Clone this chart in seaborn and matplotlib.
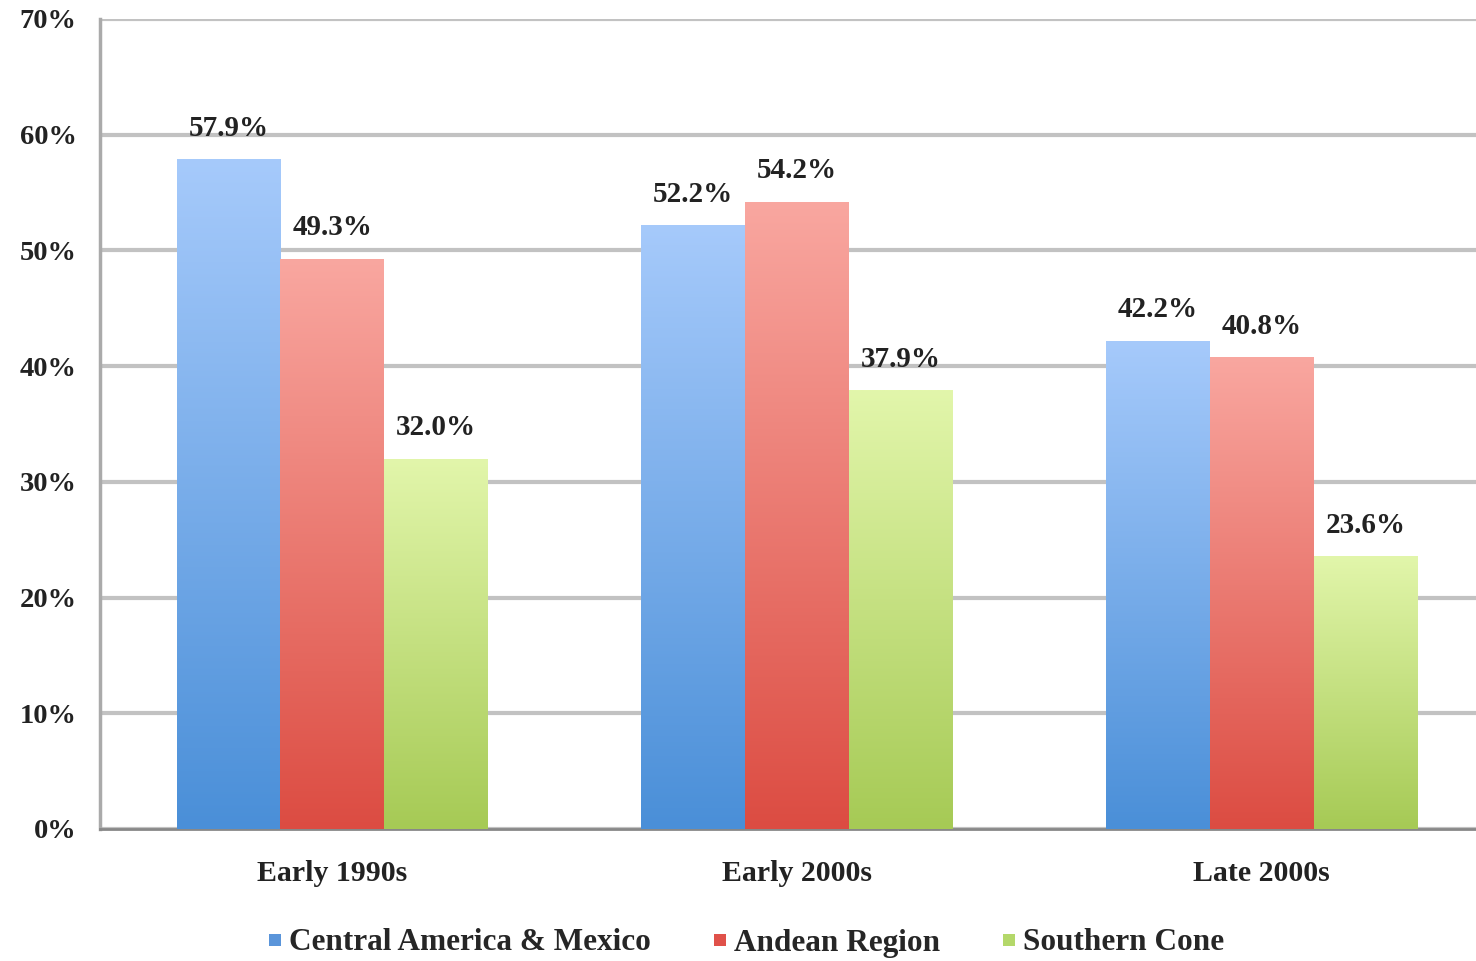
import numpy as np
import pandas as pd
import matplotlib
matplotlib.use("Agg")
import matplotlib.pyplot as plt
import seaborn as sns
from matplotlib.lines import Line2D
from matplotlib.colors import LinearSegmentedColormap

periods = ["Early 1990s", "Early 2000s", "Late 2000s"]
regions = ["Central America & Mexico", "Andean Region", "Southern Cone"]
central_america = [57.9, 52.2, 42.2]
andean = [49.3, 54.2, 40.8]
southern_cone = [32.0, 37.9, 23.6]
y_ticks = [0, 10, 20, 30, 40, 50, 60, 70]

top_colors = ["#A6CAFB", "#F9A7A0", "#E2F6AB"]
bottom_colors = ["#4A8FD8", "#DC4C42", "#A6CA55"]

df = pd.DataFrame({
    "period": periods * 3,
    "region": [regions[0]] * 3 + [regions[1]] * 3 + [regions[2]] * 3,
    "value": central_america + andean + southern_cone,
})

sns.set_theme(style="white")
plt.rcParams["font.family"] = ["Liberation Serif", "DejaVu Serif"]

fig = plt.figure(figsize=(14.76, 9.61), dpi=100)
ax = fig.add_axes([100 / 1476, 1 - 829 / 961, 1394 / 1476, 810 / 961])

sns.barplot(data=df, x="period", y="value", hue="region", order=periods,
            hue_order=regions, palette=bottom_colors, width=0.67, gap=0,
            errorbar=None, legend=False, ax=ax, zorder=3, linewidth=0)

ax.set_xlim(-0.5, 2.5)
ax.set_ylim(0, 70)

# gradient fill on each bar
bars = [p for p in ax.patches]
for i, bar in enumerate(bars):
    ci = i // 3
    cmap = LinearSegmentedColormap.from_list("g", [bottom_colors[ci], top_colors[ci]])
    x0, y0 = bar.get_x(), bar.get_y()
    w, h = bar.get_width(), bar.get_height()
    grad = np.linspace(0, 1, 256).reshape(-1, 1)
    im = ax.imshow(grad, cmap=cmap, origin="lower", aspect="auto",
                   extent=[x0, x0 + w, y0, y0 + h], zorder=4)
    im.set_clip_path(bar)
    ax.text(x0 + w / 2, y0 + h + 1.5, f"{h:.1f}%", ha="center", va="bottom",
            fontsize=21, fontweight="bold", color="#222222", zorder=5)

ax.set_xlim(-0.5, 2.5)
ax.set_ylim(0, 70)
ax.set_yticks(y_ticks)
ax.set_yticklabels([f"{t}%" for t in y_ticks], fontsize=20.5, fontweight="bold", color="#222222")
ax.set_xticks(range(len(periods)))
ax.set_xticklabels(periods, fontsize=21.5, fontweight="bold", color="#222222")
ax.set_xticks([-0.5, 0.5, 1.5, 2.5], minor=True)
ax.tick_params(axis="x", which="major", length=0, pad=22)
ax.tick_params(axis="x", which="minor", length=6, width=1.5, color="#888888", direction="out")
ax.tick_params(axis="y", which="major", length=5, width=1.5, color="#999999", direction="out", pad=12)
ax.set_xlabel("")
ax.set_ylabel("")

ax.yaxis.grid(True, color="#C2C2C2", linewidth=3, zorder=0)
ax.set_axisbelow(True)
for s in ["top", "right"]:
    ax.spines[s].set_visible(False)
ax.spines["left"].set_color("#AAAAAA")
ax.spines["left"].set_linewidth(2.5)
ax.spines["bottom"].set_color("#888888")
ax.spines["bottom"].set_linewidth(2)

handles = [Line2D([0], [0], marker="s", linestyle="none", markersize=8,
                  markerfacecolor=c, markeredgewidth=0) for c in
           ["#5A95DA", "#E0514A", "#B4D86A"]]
fig.legend(handles, regions, loc="center", bbox_to_anchor=(745 / 1476, 1 - 943 / 961),
           ncol=3, frameon=False, handlelength=0.6, handletextpad=0.15,
           columnspacing=1.9, prop={"family": ["Liberation Serif"], "size": 22.5, "weight": "bold"})

fig.savefig("out.png", dpi=100)
